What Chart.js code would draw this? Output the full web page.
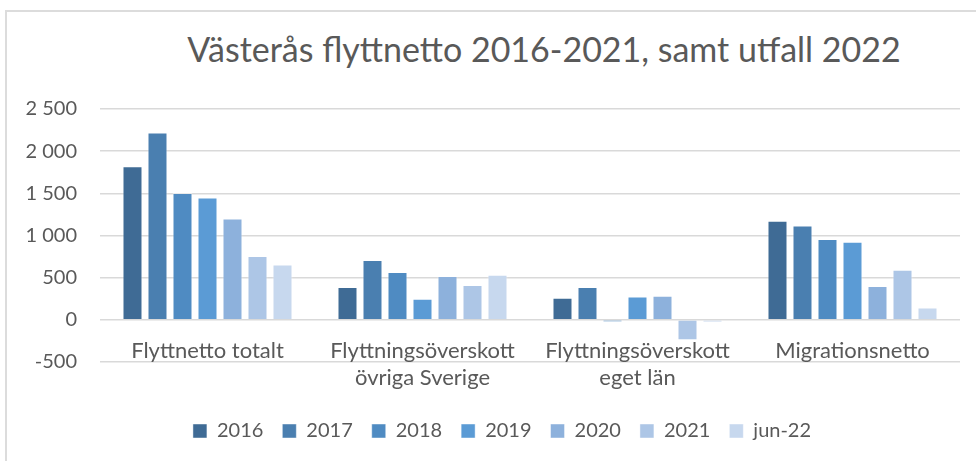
<!DOCTYPE html>
<html lang="sv">
<head>
<meta charset="UTF-8">
<title>Västerås flyttnetto</title>
<script src="https://cdn.jsdelivr.net/npm/chart.js"></script>
<style>
  body { margin: 0; width: 976px; height: 461px; overflow: hidden; background: #fff; position: relative; }
  .ram { position: absolute; left: 5px; top: 10px; width: 1100px; height: 600px; border-left: 2px solid #dcdcdc; border-top: 2px solid #dcdcdc; }
  .titel { position: absolute; left: 544px; top: 28px; transform: translateX(-50%); white-space: nowrap;
           font-family: Lato, sans-serif; font-weight: 400; font-size: 34px; color: #595959; }
  #diagram { position: absolute; left: 0; top: 0; }
</style>
</head>
<body>
<div class="ram"></div>
<div class="titel">Västerås flyttnetto 2016-2021, samt utfall 2022</div>
<canvas id="diagram" width="976" height="461"></canvas>
<script>
// kategorier och serier
const kategorier = ['Flyttnetto totalt', ['Flyttningsöverskott', 'övriga Sverige'], ['Flyttningsöverskott', 'eget län'], 'Migrationsnetto'];
const serieNamn = ['2016', '2017', '2018', '2019', '2020', '2021', 'jun-22'];
const v2016 = [1820, 390, 262, 1175];
const v2017 = [2220, 710, 390, 1120];
const v2018 = [1505, 568, -25, 958];
const v2019 = [1452, 250, 277, 925];
const v2020 = [1202, 520, 286, 401];
const v2021 = [758, 413, -242, 595];
const vJun22 = [655, 536, -30, 146];
const yTicks = [-500, 0, 500, 1000, 1500, 2000, 2500];

const serier = [v2016, v2017, v2018, v2019, v2020, v2021, vJun22];
const farger = ['#3f6b95', '#4a7fb0', '#4f8bc2', '#5b9bd5', '#8db1dc', '#adc6e6', '#c7d8ee'];
const textFarg = '#595959';

// "2 500" med mellanslag som tusentalsavgränsare
function formatera(v) {
    return String(v).replace(/\B(?=(\d{3})+(?!\d))/g, ' ');
}

// förklaringen sitter lite till höger om mitten i originalet
const flyttaForklaring = {
    id: 'flyttaForklaring',
    afterLayout(chart) {
        if (chart.legend) {
            chart.legend.left += 22;
            chart.legend.right += 22;
        }
    }
};

const ctx = document.getElementById('diagram').getContext('2d');
const diagram = new Chart(ctx, {
    type: 'bar',
    data: {
        labels: kategorier,
        datasets: serier.map((data, i) => ({
            label: serieNamn[i],
            data: data,
            backgroundColor: farger[i],
            borderColor: 'rgba(255,255,255,0.45)',
            borderWidth: 1,
            categoryPercentage: 0.814,
            barPercentage: 0.8
        }))
    },
    plugins: [flyttaForklaring],
    options: {
        responsive: false,
        animation: false,
        layout: { padding: { top: 109, right: 16, bottom: 10, left: 0 } },
        plugins: {
            title: { display: false },
            tooltip: { enabled: false },
            legend: {
                position: 'bottom',
                // tom titel = luft mellan diagramytan och förklaringen
                title: { display: true, text: ' ', font: { size: 10, lineHeight: 1 }, padding: { top: 15, bottom: 15 } },
                labels: {
                    boxWidth: 14,
                    boxHeight: 14,
                    padding: 19,
                    color: textFarg,
                    font: { family: 'Lato', size: 20 }
                }
            }
        },
        scales: {
            x: {
                position: { y: 0 },
                grid: { display: false },
                border: { display: false },
                ticks: {
                    color: textFarg,
                    padding: 9,
                    maxRotation: 0,
                    autoSkip: false,
                    font: { family: 'Lato', size: 22, lineHeight: 1.25 }
                }
            },
            y: {
                min: -500,
                max: 2500,
                afterFit: (scale) => { scale.width = 100; },
                afterBuildTicks: (scale) => { scale.ticks = yTicks.map(v => ({ value: v })); },
                grid: { color: '#d9d9d9', lineWidth: 1.5, drawTicks: false },
                border: { display: false },
                ticks: {
                    color: textFarg,
                    padding: 23,
                    font: { family: 'Lato', size: 20 },
                    callback: (v) => formatera(v)
                }
            }
        }
    }
});
</script>
</body>
</html>
